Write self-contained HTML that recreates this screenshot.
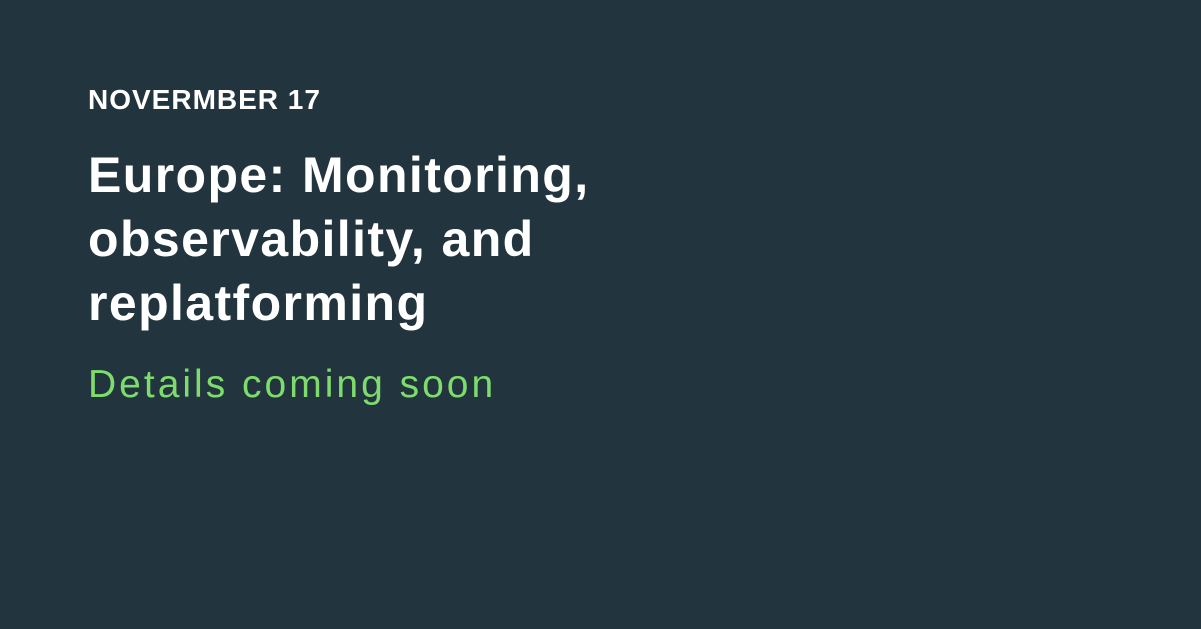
<!DOCTYPE html>
<html><head><meta charset="utf-8"><style>
html,body{margin:0;padding:0;}
body{width:1201px;height:629px;background:#22343d;position:relative;overflow:hidden;font-family:"Liberation Sans",sans-serif;}
.t{position:absolute;left:88px;white-space:nowrap;}
#d{top:84px;font-size:28px;font-weight:bold;color:#fff;letter-spacing:1px;line-height:32px;}
#h{top:143px;font-size:50px;font-weight:bold;color:#fff;letter-spacing:1.4px;line-height:64px;}
#g{top:363px;font-size:39px;color:#7ddc6c;letter-spacing:3px;line-height:44px;}
</style></head><body>
<div class="t" id="d">NOVERMBER 17</div>
<div class="t" id="h">Europe: Monitoring,<br>observability, and<br>replatforming</div>
<div class="t" id="g">Details coming soon</div>
</body></html>
